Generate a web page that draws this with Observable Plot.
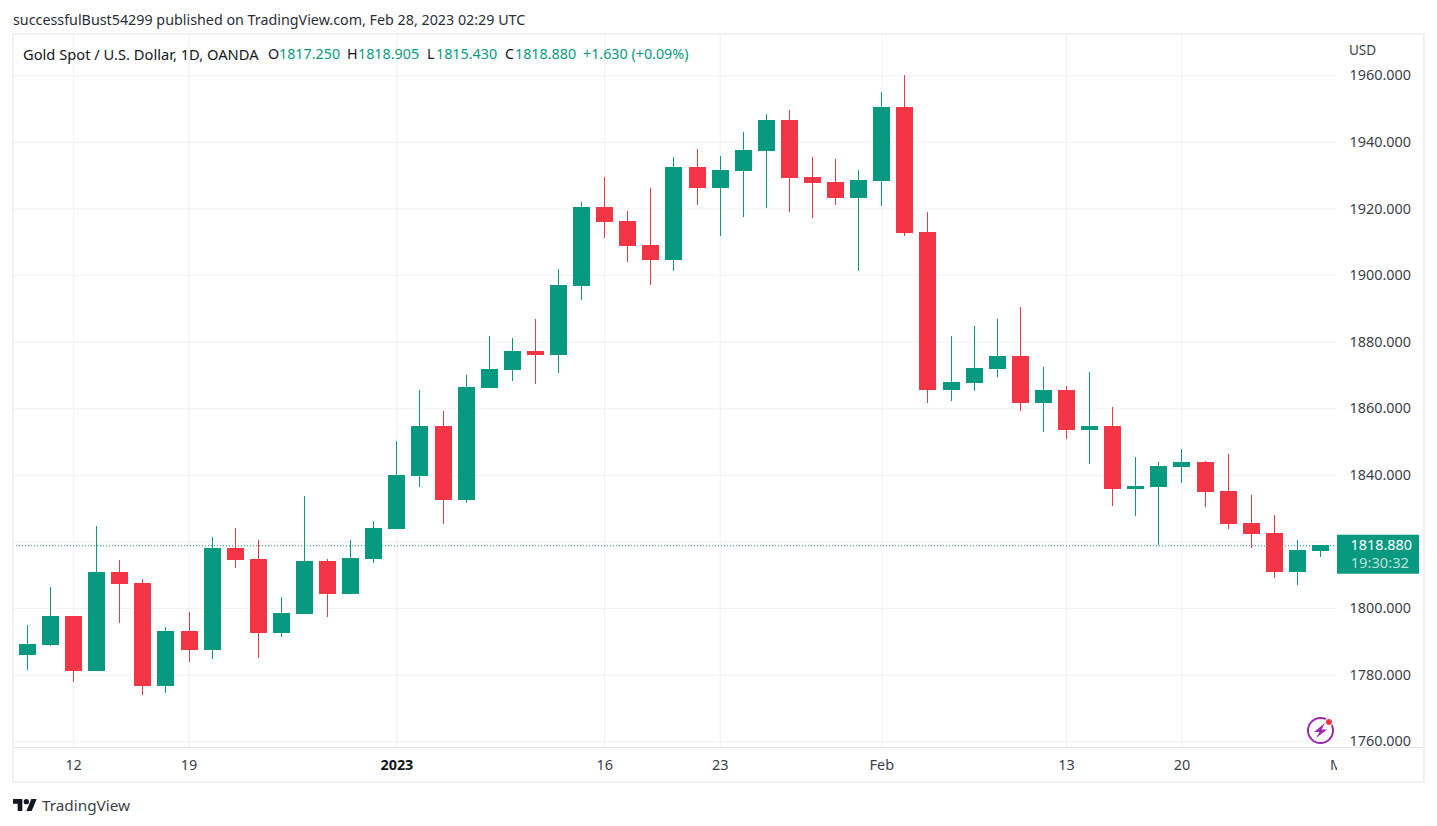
<!DOCTYPE html>
<html>
<head>
<meta charset="utf-8">
<script src="https://cdn.jsdelivr.net/npm/d3@7"></script>
<script src="https://cdn.jsdelivr.net/npm/@observablehq/plot@0.6"></script>
<style>
html,body{margin:0;padding:0;background:#fff;width:1437px;height:826px;overflow:hidden}
body{position:relative;font-family:"Noto Sans",sans-serif;color:#131722}
#head{height:35px;position:relative}
#pub{position:absolute;left:13px;top:10px;font-size:14.3px;line-height:20px;color:#2a2e39;white-space:nowrap}
#chart svg{display:block}
#legend span{position:absolute;top:43.5px;font-size:14.3px;line-height:20px;white-space:nowrap}
#legend span.name{font-size:14.7px}
#box{position:absolute;left:12px;top:33px;width:1409px;height:746px;border:2px solid #f0f1f6;pointer-events:none}
#foot{position:absolute;left:13px;top:796px;height:18px;display:flex;align-items:center}
#foot span{margin-left:5px;font-size:15.3px;color:#3b3f4a}
</style>
</head>
<body>
<div id="head"><div id="pub">successfulBust54299 published on TradingView.com, Feb 28, 2023 02:29 UTC</div></div>
<div id="chart"></div>
<div id="legend"></div>
<div id="box"></div>
<div id="foot">
<svg width="24" height="12" viewBox="0 4 36 18"><path fill="#131722" d="M14 22H7V11H0V4h14v18zM28 22h-8l7.5-18h8L28 22z"/><circle fill="#131722" cx="20" cy="8" r="4"/></svg>
<span>TradingView</span>
</div>
<script>
const open = [1786.0,1789.0,1797.7,1781.2,1810.9,1807.6,1776.7,1793.2,1787.5,1818.1,1814.8,1792.6,1798.3,1814.2,1804.3,1814.8,1823.8,1839.7,1854.7,1832.5,1866.2,1871.6,1877.3,1876.1,1896.8,1920.5,1916.3,1909.1,1904.6,1932.5,1926.2,1931.3,1937.3,1946.6,1929.5,1928.0,1923.2,1928.3,1950.5,1913.0,1865.6,1867.7,1871.9,1875.8,1861.7,1865.6,1853.6,1854.8,1835.8,1836.4,1842.4,1843.9,1835.2,1825.6,1822.6,1810.9,1817.25];
const close = [1789.3,1797.7,1781.2,1810.9,1807.3,1776.7,1793.2,1787.5,1818.1,1814.5,1792.6,1798.6,1814.2,1804.3,1815.1,1824.1,1840.0,1854.7,1832.5,1866.5,1871.9,1877.3,1876.1,1897.1,1920.5,1916.0,1908.8,1904.6,1932.5,1926.2,1931.6,1937.6,1946.6,1929.2,1927.7,1923.2,1928.6,1950.5,1912.7,1865.6,1868.0,1872.2,1875.8,1861.7,1865.6,1853.6,1854.8,1835.8,1836.7,1842.7,1843.9,1834.9,1825.3,1822.3,1810.9,1817.5,1818.88];
const high = [1795.0,1806.4,1797.7,1824.7,1814.5,1808.8,1794.4,1798.9,1821.4,1824.1,1820.5,1803.4,1833.7,1814.8,1820.5,1826.2,1850.2,1865.6,1859.3,1870.1,1881.8,1881.2,1886.9,1901.9,1922.0,1929.5,1919.3,1926.2,1935.5,1937.9,1935.8,1943.0,1948.4,1949.6,1935.5,1934.9,1931.6,1955.0,1960.1,1919.0,1881.8,1884.8,1886.9,1890.5,1872.5,1866.8,1871.0,1860.5,1845.4,1843.9,1847.8,1844.2,1846.3,1834.0,1828.0,1820.5,1818.905];
const low = [1781.5,1788.7,1777.9,1781.2,1795.6,1774.0,1774.6,1783.9,1784.8,1812.1,1785.1,1791.4,1798.3,1797.4,1804.3,1813.6,1823.8,1836.4,1825.3,1831.6,1866.2,1868.3,1867.4,1870.7,1892.6,1911.2,1904.0,1897.1,1901.3,1921.1,1911.8,1917.5,1920.2,1919.0,1917.2,1921.1,1901.3,1920.8,1911.8,1861.7,1862.3,1865.3,1869.5,1859.3,1852.9,1850.9,1843.3,1830.7,1827.7,1819.0,1837.6,1830.4,1823.8,1817.9,1809.1,1807.0,1815.43];
const tickIndex = [2,7,16,25,30,37,45,50,57];
const tickLabels = ["12","19","2023","16","23","Feb","13","20","Mar"];
const boldTick = "2023";
const priceTicks = [1760,1780,1800,1840,1860,1880,1900,1920,1940,1960];
const gridPrices = [1760,1780,1800,1820,1840,1860,1880,1900,1920,1940,1960];
const countdown = "19:30:32";

const UP = "#089981", DOWN = "#f23645", GRID = "#f1f1f4";
const FONT = '"Noto Sans",sans-serif';
const candles = open.map((o,i)=>({i,o,c:close[i],h:high[i],l:low[i],dir:close[i]>=o?"up":"down"}));
const labelOf = new Map(tickIndex.map((t,k)=>[t,tickLabels[k]]));
const last = candles[candles.length-1];

const chart = Plot.plot({
  width:1437, height:747,
  marginLeft:13, marginRight:101, marginTop:0, marginBottom:35,
  style:{fontFamily:FONT,fontSize:"14.4px",background:"#fff"},
  x:{type:"linear",domain:[-0.604,56.693]},
  y:{type:"linear",domain:[1758.29,1972.10]},
  color:{domain:["up","down"],range:[UP,DOWN]},
  marks:[
    Plot.gridX(tickIndex.slice(0,-1),{x:d=>d,stroke:GRID,strokeOpacity:1,strokeWidth:1}),
    Plot.gridY(gridPrices,{y:d=>d,stroke:GRID,strokeOpacity:1,strokeWidth:1}),
    Plot.axisY(priceTicks,{anchor:"right",tickSize:0,tickPadding:13,tickFormat:d=>d.toFixed(3),label:null,fill:"#3b3f4a"}),
    Plot.axisX(tickIndex.filter(t=>labelOf.get(t)!==boldTick),{anchor:"bottom",tickSize:0,tickPadding:12,tickFormat:d=>labelOf.get(d),label:null,fill:"#3b3f4a"}),
    Plot.axisX(tickIndex.filter(t=>labelOf.get(t)===boldTick),{anchor:"bottom",tickSize:0,tickPadding:12,tickFormat:d=>labelOf.get(d),label:null,fill:"#131722",fontWeight:"bold"}),
    Plot.ruleY([last.c],{stroke:UP,strokeDasharray:"1,2",strokeWidth:1}),
    Plot.ruleX(candles,{x:"i",y1:"l",y2:"h",stroke:"dir",strokeWidth:1,shapeRendering:"crispEdges"}),
    Plot.ruleX(candles,{x:"i",y1:"o",y2:"c",stroke:"dir",strokeWidth:17,shapeRendering:"crispEdges"})
  ]
});
document.getElementById("chart").appendChild(chart);

// furniture that follows the scales: last price tag, axis separator, badge
const svg = d3.select(chart);
const Y = chart.scale("y").apply(last.c);
svg.append("rect").attr("x",1337).attr("y",713).attr("width",86).attr("height",32).attr("fill","#fff");
svg.append("line").attr("x1",13).attr("x2",1337).attr("y1",712.5).attr("y2",712.5).attr("stroke","#e0e3eb");
svg.append("line").attr("x1",1338).attr("x2",1424).attr("y1",712.5).attr("y2",712.5).attr("stroke","#e0e3eb");
svg.append("rect").attr("x",1337).attr("y",Y-10.5).attr("width",82).attr("height",39).attr("fill",UP);
svg.append("text").attr("x",1412).attr("y",Y+5).attr("text-anchor","end").attr("fill","#fff").attr("font-size",14.4).text(last.c.toFixed(3));
svg.append("text").attr("x",1409).attr("y",Y+23).attr("text-anchor","end").attr("fill","rgba(255,255,255,.72)").attr("font-size",14.7).text(countdown);
svg.append("text").attr("x",1349).attr("y",20).attr("text-anchor","start").attr("fill","#3b3f4a").attr("font-size",13.5).text("USD");
const badge = svg.append("g").attr("transform","translate(1320.5,695.5)");
badge.append("circle").attr("r",12.5).attr("fill","none").attr("stroke","#9c27b0").attr("stroke-width",2);
badge.append("path").attr("fill","#9c27b0").attr("d","M4.5 -7.5 L-6.5 1.5 H-1 L-4.5 7.5 L6.5 -1 H1 Z");
badge.append("circle").attr("cx",8.5).attr("cy",-8.5).attr("r",4.2).attr("fill","#fff");
badge.append("circle").attr("cx",8.5).attr("cy",-8.5).attr("r",3).attr("fill",DOWN);

// legend line, read from the last candle
const change = last.c - last.o;
const legend = d3.select("#legend");
const put=(x,t,c,k)=>legend.append("span").attr("class",k||null).style("left",x+"px").style("color",c).text(t);
put(23,"Gold Spot / U.S. Dollar, 1D, OANDA","#131722","name");
put(268,"O","#131722"); put(279,last.o.toFixed(3),UP);
put(347,"H","#131722"); put(358,last.h.toFixed(3),UP);
put(427,"L","#131722"); put(436,last.l.toFixed(3),UP);
put(505,"C","#131722"); put(515,last.c.toFixed(3),UP);
put(583,"+"+change.toFixed(3)+" (+0.09%)",UP);
</script>
</body>
</html>
